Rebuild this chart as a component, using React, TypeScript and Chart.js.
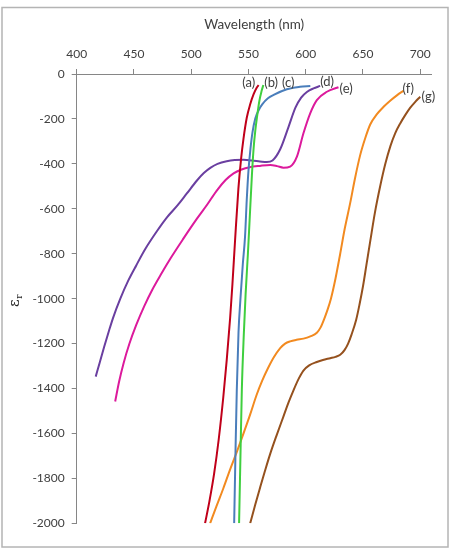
import React, { useEffect, useRef } from "react";
import { Chart, registerables } from "chart.js";

Chart.register(...registerables);

// Wavelength (nm) / relative permittivity pairs for each sample
const wlA = [512.1, 516, 520, 524, 528, 531, 534, 536, 538.3, 541.2, 543.5, 545.6, 548.5, 551.5, 554.5, 557.3, 558.9];
const epsA = [-2000, -1899, -1779, -1627, -1439, -1274, -1085, -935, -740, -510, -380, -290, -195, -135, -90, -60, -50];

const wlB = [541.8, 543, 544.2, 546, 547.5, 549.5, 551, 553, 554.5, 556, 557.5, 559.5, 561.5, 563];
const epsB = [-2000, -1700, -1406, -1150, -980, -800, -650, -450, -330, -250, -190, -120, -75, -49];

const wlC = [537.5, 538.6, 539.8, 541.3, 543, 545, 547, 548.5, 550, 551.8, 553.5, 556, 559, 562, 567, 572, 583.5, 595, 604];
const epsC = [-2000, -1700, -1406, -1150, -1000, -850, -724, -560, -430, -330, -260, -197, -160, -135, -108, -93, -68, -57, -53];

const wlD = [416.6, 420, 424, 428, 432, 438, 445, 452, 460, 470, 479, 488, 496, 505, 511, 517, 523, 531, 538, 545.6, 553, 560, 566, 571, 577.7, 585, 591, 596, 601, 606.8, 612.6];
const epsD = [-1347, -1286, -1214, -1146, -1082, -1001, -920, -852, -778, -700, -637, -585, -533, -474, -441, -417, -400, -388, -383, -382, -385, -389, -392, -385, -335, -235, -150, -105, -80, -64, -53];

const wlE = [433.6, 437, 441, 446, 452, 459, 466, 474, 482, 493, 505, 514, 522, 530, 537, 544, 551, 560, 569, 575, 580.5, 586.4, 592.3, 598, 603.9, 609.7, 618.5, 628.6];
const epsE = [-1458, -1370, -1286, -1201, -1117, -1033, -960, -888, -820, -734, -644, -581, -521, -472, -442, -425, -415, -409, -405, -410, -417, -412, -368, -264, -175, -116, -79, -59];

const wlF = [516.5, 522, 528, 534, 540, 546, 551.5, 557, 562, 567, 572, 577.7, 582, 586.4, 592, 598, 604, 609.7, 613, 616, 619, 622, 626, 630.1, 634, 638.8, 643, 647.6, 652, 656.3, 662, 668, 674, 679.6, 685.5];
const epsF = [-2000, -1925, -1845, -1760, -1680, -1595, -1515, -1430, -1365, -1310, -1262, -1220, -1200, -1190, -1183, -1178, -1168, -1152, -1128, -1092, -1050, -1000, -910, -800, -690, -575, -465, -360, -285, -225, -180, -146, -118, -95, -74];

const wlG = [551.5, 556, 560.2, 564.5, 568.9, 574.8, 580.5, 585, 589.3, 594, 598, 603, 609.7, 615, 621.4, 626, 630.1, 634, 637, 640, 644, 647, 650, 653, 656.3, 660.5, 665, 669.5, 674, 678, 682.5, 687, 691.3, 696, 700];
const epsG = [-2000, -1915, -1840, -1765, -1692, -1605, -1525, -1462, -1408, -1355, -1320, -1297, -1282, -1273, -1265, -1259, -1250, -1228, -1200, -1160, -1095, -1025, -945, -850, -745, -615, -500, -400, -320, -265, -220, -182, -150, -122, -101];

const seriesNames = ["(a)", "(b)", "(c)", "(d)", "(e)", "(f)", "(g)"];
const seriesWl = [wlA, wlB, wlC, wlD, wlE, wlF, wlG];
const seriesEps = [epsA, epsB, epsC, epsD, epsE, epsF, epsG];
const seriesColors = ["#c0001a", "#3fcf3f", "#4a7ebb", "#6a3fa0", "#dc1a9c", "#f28a20", "#95511e"];

// Where each series tag sits, in data units
const tagWl = [550.3, 569.8, 584.7, 618.7, 635.3, 689.5, 707];
const tagEps = [-41, -40, -40, -37, -64, -64, -101];

const xTicksMin = 400;
const xTicksMax = 710;
const yTicksMin = -2000;
const yTicksMax = 0;

const FONT = "Lato";
const TEXT = "#404040";
const AXIS = "#868686";

const decorations = {
  id: "decorations",
  afterDatasetsDraw(chart: any) {
    const { ctx, scales } = chart;
    ctx.save();
    ctx.fillStyle = TEXT;
    ctx.font = `13px ${FONT}`;
    ctx.textAlign = "center";
    ctx.textBaseline = "middle";
    seriesNames.forEach((name, i) => {
      ctx.fillText(name, scales.x.getPixelForValue(tagWl[i]), scales.y.getPixelForValue(tagEps[i]));
    });
    ctx.restore();
  },
  afterDraw(chart: any) {
    const { ctx } = chart;
    ctx.save();
    // outer frame
    ctx.strokeStyle = "#b4b4b4";
    ctx.lineWidth = 1.5;
    ctx.strokeRect(2, 7.5, 446, 539.5);
    // vertical axis title: epsilon with subscript r
    ctx.translate(19, 307);
    ctx.rotate(-Math.PI / 2);
    ctx.fillStyle = "#262626";
    ctx.textBaseline = "alphabetic";
    ctx.textAlign = "left";
    ctx.font = `15px "DejaVu Serif"`;
    ctx.fillText("ε", 0, 0);
    const w = ctx.measureText("ε").width;
    ctx.font = `9px "DejaVu Serif"`;
    ctx.fillText("r", w + 0.5, 3);
    ctx.restore();
  },
};

export default function App() {
  const canvasRef = useRef<HTMLCanvasElement | null>(null);

  useEffect(() => {
    const canvas = canvasRef.current;
    if (!canvas) return;
    const datasets = seriesNames.map((name, i) => ({
      label: name,
      data: seriesWl[i].map((x, j) => ({ x, y: seriesEps[i][j] })),
      borderColor: seriesColors[i],
      backgroundColor: seriesColors[i],
      borderWidth: 2,
      pointRadius: 0,
      cubicInterpolationMode: "monotone" as const,
      fill: false,
    }));
    const chart = new Chart(canvas, {
      type: "line",
      data: { datasets },
      options: {
        animation: false,
        responsive: false,
        maintainAspectRatio: false,
        layout: { padding: { left: 0, top: 0, right: 18.3, bottom: 30.7 } },
        plugins: { legend: { display: false }, tooltip: { enabled: false } },
        scales: {
          x: {
            type: "linear",
            position: "top",
            min: xTicksMin,
            max: xTicksMax,
            afterFit: (s: any) => {
              s.height = 74;
            },
            ticks: {
              stepSize: 50,
              includeBounds: false,
              padding: 7.5,
              color: TEXT,
              font: { family: FONT, size: 12 },
              maxRotation: 0,
              callback: (v: any) => String(v),
            },
            grid: { drawOnChartArea: false, drawTicks: true, tickLength: 5, color: AXIS },
            border: { display: true, color: AXIS },
            title: {
              display: true,
              text: "Wavelength (nm)",
              color: TEXT,
              font: { family: FONT, size: 13.5 },
              padding: { top: 17, bottom: 0 },
            },
          },
          y: {
            type: "linear",
            min: yTicksMin,
            max: yTicksMax,
            afterFit: (s: any) => {
              s.width = 76.7;
            },
            ticks: {
              stepSize: 200,
              padding: 7,
              color: TEXT,
              font: { family: FONT, size: 12 },
              callback: (v: any) => String(v),
            },
            grid: { drawOnChartArea: false, drawTicks: true, tickLength: 5, color: AXIS },
            border: { display: true, color: AXIS },
          },
        },
      },
      plugins: [decorations],
    });
    return () => chart.destroy();
  }, []);

  return (
    <div style={{ position: "fixed", left: 0, top: 0, width: 450, height: 554, background: "#ffffff" }}>
      <canvas ref={canvasRef} width={450} height={554} style={{ display: "block", width: 450, height: 554 }} />
    </div>
  );
}
